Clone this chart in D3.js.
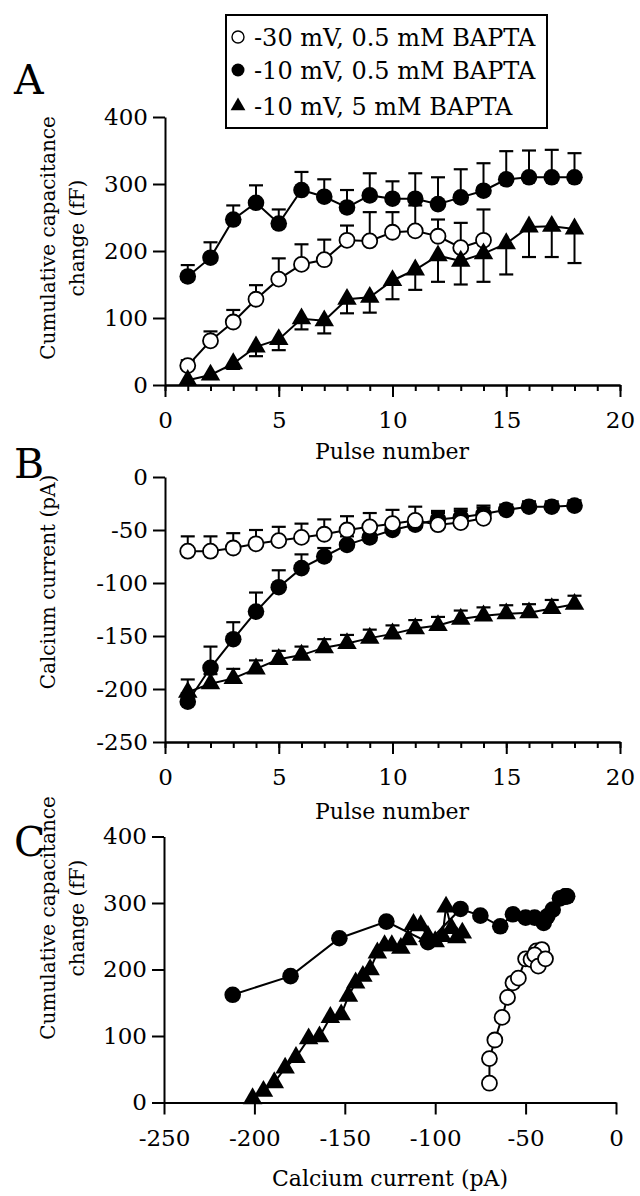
<!DOCTYPE html>
<html>
<head>
<meta charset="utf-8">
<script src="https://cdn.jsdelivr.net/npm/d3@7"></script>
<style>
  body { margin: 0; background: #fff; }
  svg text { font-family: "DejaVu Serif", serif; fill: #000; }
</style>
</head>
<body>
<div id="chart"></div>
<script>
// ---- data ----
var pulses = [1,2,3,4,5,6,7,8,9,10,11,12,13,14,15,16,17,18];

// panel A: cumulative capacitance change (fF)
var capOpen    = [29,66,94,128,158,180,187,216,215,228,230,222,205,216];          // -30 mV, 0.5 mM
var capOpenErr = [8,14,18,21,31,30,30,22,43,30,38,25,37,46];
var capFill    = [162,190,247,272,241,291,281,265,283,278,278,270,280,290,307,310,310,310]; // -10 mV, 0.5 mM
var capFillErr = [17,23,21,26,21,27,26,26,33,26,38,40,42,41,42,40,41,36];
var capTri     = [7,15,32,57,68,99,96,128,131,156,172,193,185,196,211,236,237,233]; // -10 mV, 5 mM
var capTriErr  = [4,6,8,14,16,16,19,21,23,28,30,39,35,42,46,45,46,51];

// panel B: calcium current (pA)
var icaOpen    = [-70,-70,-67,-63,-60,-57,-54,-50,-47,-44,-41,-45,-43,-39];
var icaOpenErr = [14,14,14,13,13,13,14,13,13,13,13,13,13,12];
var icaFill    = [-212,-180,-153,-127,-104,-86,-75,-64,-57,-50,-45,-40,-38,-35,-31,-28,-28,-27];
var icaFillErr = [8,20,16,18,16,13,8,8,7,6,6,6,6,6,5,5,5,5];
var icaTri     = [-203,-195,-190,-181,-172,-168,-161,-157,-152,-148,-143,-140,-134,-131,-129,-128,-124,-120];
var icaTriErr  = [12,9,9,8,8,8,8,8,8,8,8,8,8,8,8,8,8,8];

// panel C: triangles plotted separately (current, capacitance)
var triCurrentC = [-201,-195,-189,-183,-177,-170,-164,-158,-152,-148,-144,-140,-136,-132,-128,-124,-119,-115,-112,-108,-104,-100,-96,-94,-91,-88,-85];
var triCapC     = [6,17,30,52,68,96,99,128,132,160,180,190,200,225,236,236,232,245,268,266,250,242,250,294,262,248,255];

var legendLabels = ["-30 mV, 0.5 mM BAPTA", "-10 mV, 0.5 mM BAPTA", "-10 mV, 5 mM BAPTA"];
var pulseTicks = [0,5,10,15,20];
var capTicks = [0,100,200,300,400];
var icaTicks = [0,-50,-100,-150,-200,-250];
var currentTicks = [-250,-200,-150,-100,-50,0];

// ---- setup ----
var svg = d3.select("#chart").append("svg")
    .attr("width", 640)
    .attr("height", 1196);

var xA = d3.scaleLinear().domain([0,20]).range([165,620]);
var yA = d3.scaleLinear().domain([0,400]).range([385,117]);
var yB = d3.scaleLinear().domain([0,-250]).range([477,742]);
var xC = d3.scaleLinear().domain([-250,0]).range([164,616]);
var yC = d3.scaleLinear().domain([0,400]).range([1102.5,836.5]);

var triPath = d3.symbol().type(d3.symbolTriangle).size(165);
var plain = function(d) { return String(d); };   // hyphen minus, like the original

function styleAxis(g) {
  g.selectAll("path, line").attr("stroke", "#000").attr("stroke-width", 2);
  g.selectAll("text").style("font-size", "23px").attr("fill", "#000");
}

function drawXAxis(x, yPos, ticks, minor) {
  if (minor) {
    svg.append("g")
      .attr("transform", "translate(0," + yPos + ")")
      .call(d3.axisBottom(x).tickValues(d3.range(0,21)).tickSize(6).tickSizeOuter(0).tickFormat(""))
      .call(styleAxis);
  }
  svg.append("g")
    .attr("transform", "translate(0," + yPos + ")")
    .call(d3.axisBottom(x).tickValues(ticks).tickSize(12).tickSizeOuter(0).tickPadding(15).tickFormat(plain))
    .call(styleAxis);
}

function drawYAxis(y, xPos, ticks) {
  svg.append("g")
    .attr("transform", "translate(" + xPos + ",0)")
    .call(d3.axisLeft(y).tickValues(ticks).tickSize(12).tickSizeOuter(0).tickPadding(5).tickFormat(plain))
    .call(styleAxis);
}

// series drawing: xs, ys, errs (dir: +1 up in value, -1 down), marker type
function drawSeries(x, y, xs, ys, errs, dir, marker) {
  var pts = xs.map(function(d, i) { return {x: d, y: ys[i], e: errs ? errs[i] : 0}; });

  svg.append("path")
    .datum(pts)
    .attr("fill", "none")
    .attr("stroke", "#000")
    .attr("stroke-width", 2)
    .attr("d", d3.line().x(function(d) { return x(d.x); }).y(function(d) { return y(d.y); }));

  if (errs) {
    var eb = svg.append("g");
    pts.forEach(function(d) {
      var y0 = y(d.y), y1 = y(d.y + dir * d.e);
      eb.append("line")
        .attr("x1", x(d.x)).attr("x2", x(d.x))
        .attr("y1", y0).attr("y2", y1)
        .attr("stroke", "#000").attr("stroke-width", 2);
      eb.append("line")
        .attr("x1", x(d.x) - 7).attr("x2", x(d.x) + 7)
        .attr("y1", y1).attr("y2", y1)
        .attr("stroke", "#000").attr("stroke-width", 2.2);
    });
  }

  var g = svg.append("g");
  if (marker == "tri") {
    g.selectAll("path")
      .data(pts)
      .enter().append("path")
        .attr("d", triPath)
        .attr("transform", function(d) { return "translate(" + x(d.x) + "," + y(d.y) + ")"; })
        .attr("fill", "#000");
  } else {
    g.selectAll("circle")
      .data(pts)
      .enter().append("circle")
        .attr("cx", function(d) { return x(d.x); })
        .attr("cy", function(d) { return y(d.y); })
        .attr("r", marker == "open" ? 7.5 : 8.3)
        .attr("fill", marker == "open" ? "#fff" : "#000")
        .attr("stroke", "#000")
        .attr("stroke-width", marker == "open" ? 1.8 : 0);
  }
}

// ---- Panel A ----
drawXAxis(xA, 385, pulseTicks, true);
drawYAxis(yA, 165, capTicks);
drawSeries(xA, yA, pulses.slice(0,14), capOpen, capOpenErr, 1, "open");
drawSeries(xA, yA, pulses, capTri, capTriErr, -1, "tri");
drawSeries(xA, yA, pulses, capFill, capFillErr, 1, "fill");

// ---- Panel B ----
drawXAxis(xA, 742, pulseTicks, true);
drawYAxis(yB, 165, icaTicks);
drawSeries(xA, yB, pulses, icaTri, icaTriErr, 1, "tri");
drawSeries(xA, yB, pulses, icaFill, icaFillErr, 1, "fill");
drawSeries(xA, yB, pulses.slice(0,14), icaOpen, icaOpenErr, 1, "open");

// ---- Panel C ----
drawXAxis(xC, 1102.5, currentTicks, false);
drawYAxis(yC, 164, capTicks);
drawSeries(xC, yC, icaFill, capFill, null, 1, "fill");
drawSeries(xC, yC, triCurrentC, triCapC, null, 1, "tri");
drawSeries(xC, yC, icaOpen, capOpen, null, 1, "open");

// ---- axis titles ----
svg.append("text").attr("x", 392).attr("y", 459).attr("text-anchor", "middle")
  .style("font-size", "22px").text("Pulse number");
svg.append("text").attr("x", 392).attr("y", 819).attr("text-anchor", "middle")
  .style("font-size", "22px").text("Pulse number");
svg.append("text").attr("x", 390).attr("y", 1186).attr("text-anchor", "middle")
  .style("font-size", "22px").text("Calcium current (pA)");

function yTitle(lines, cx, cy) {
  lines.forEach(function(t, i) {
    svg.append("text")
      .attr("transform", "translate(" + (cx + i * 29) + "," + cy + ") rotate(-90)")
      .attr("text-anchor", "middle")
      .style("font-size", "20px")
      .text(t);
  });
}
yTitle(["Cumulative capacitance", "change (fF)"], 55, 238);
yTitle(["Calcium current (pA)"], 55, 582);
yTitle(["Cumulative capacitance", "change (fF)"], 55, 918);

// ---- panel letters ----
[["A", 94], ["B", 478], ["C", 856]].forEach(function(p) {
  svg.append("text").attr("x", 14).attr("y", p[1])
    .style("font-size", "41px").text(p[0]);
});

// ---- legend ----
var leg = svg.append("g");
leg.append("rect")
  .attr("x", 226).attr("y", 15).attr("width", 321).attr("height", 113)
  .attr("fill", "#fff").attr("stroke", "#000").attr("stroke-width", 2);
var rowY = [37, 70, 106];
leg.append("circle").attr("cx", 238).attr("cy", rowY[0]).attr("r", 6)
  .attr("fill", "#fff").attr("stroke", "#000").attr("stroke-width", 1.4);
leg.append("circle").attr("cx", 238).attr("cy", rowY[1]).attr("r", 6.5)
  .attr("fill", "#000");
leg.append("path").attr("d", d3.symbol().type(d3.symbolTriangle).size(95))
  .attr("transform", "translate(238," + rowY[2] + ")").attr("fill", "#000");
legendLabels.forEach(function(t, i) {
  leg.append("text").attr("x", 254).attr("y", rowY[i] + 8.5)
    .style("font-size", "24px").text(t);
});
</script>
</body>
</html>
